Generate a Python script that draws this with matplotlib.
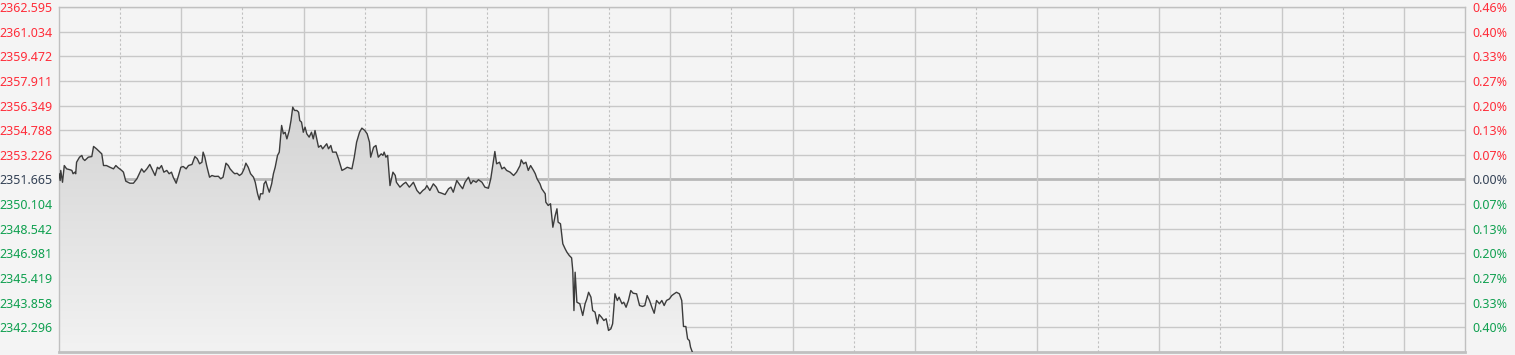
import numpy as np
import matplotlib
matplotlib.use('Agg')
import matplotlib.pyplot as plt
from matplotlib.patches import Polygon
from matplotlib.colors import LinearSegmentedColormap

plt.rcParams['font.family'] = ['Noto Sans', 'DejaVu Sans']

prev_close = 2351.665

# price levels shown on the left axis (top to bottom)
levels = [2362.595, 2361.034, 2359.472, 2357.911, 2356.349, 2354.788, 2353.226,
          2351.665, 2350.104, 2348.542, 2346.981, 2345.419, 2343.858, 2342.296]

# minutes since open
minutes = [0.0, 0.2, 0.3, 0.6, 0.9, 1.3, 1.9, 2.2, 2.4, 2.7, 2.85, 3.0, 3.5, 3.9, 4.1, 4.4,
           5.0, 5.6, 5.9, 6.4, 7.0, 7.3, 7.6, 8.1, 8.7, 9.3, 9.7, 10.1, 10.7, 11.0, 11.4,
           12.1, 12.7, 13.3, 13.7, 14.1, 14.5, 15.0, 15.5, 16.0, 16.4, 16.8, 17.1, 17.5,
           17.9, 18.4, 18.8, 19.2, 19.5, 20.0, 20.4, 20.8, 21.2, 21.7, 22.1, 22.7, 23.2,
           23.6, 24.0, 24.4, 24.6, 24.9, 25.2, 25.7, 26.1, 26.6, 27.2, 27.6, 28.0, 28.5,
           28.9, 29.2, 29.7, 30.0, 30.4, 30.8, 31.2, 31.6, 31.9, 32.3, 32.7, 33.2, 33.5,
           33.9, 34.2, 34.4, 34.8, 35.0, 35.3, 35.6, 35.9, 36.3, 36.6, 36.9, 37.3, 37.6,
           38.0, 38.3, 38.6, 38.9, 39.3, 39.6, 39.9, 40.2, 40.6, 40.9, 41.1, 41.4, 41.7,
           42.0, 42.3, 42.7, 43.1, 43.4, 43.7, 44.3, 44.7, 45.0, 45.7, 46.0, 46.4, 46.7,
           47.3, 47.7, 48.3, 48.8, 49.2, 50.0, 50.4, 50.8, 51.3, 51.7, 52.2, 52.6, 53.0,
           53.2, 53.7, 54.1, 54.5, 55.0, 55.3, 55.5, 55.8, 56.1, 56.5, 57.0, 57.4, 57.6,
           58.2, 58.8, 59.2, 59.8, 60.5, 61.1, 61.6, 62.1, 62.5, 62.8, 63.3, 63.9, 64.4,
           64.8, 65.3, 65.9, 66.5, 66.9, 67.3, 67.9, 68.5, 68.9, 69.3, 69.9, 70.3, 70.7,
           71.2, 71.6, 72.2, 72.7, 73.3, 73.7, 74.0, 74.4, 74.7, 75.2, 75.6, 76.0, 76.4,
           77.0, 77.6, 78.1, 78.7, 78.9, 79.3, 79.7, 80.1, 80.5, 81.0, 81.3, 81.6, 82.1,
           82.4, 83.0, 83.1, 83.5, 83.9, 84.3, 84.7, 85.0, 85.2, 85.6, 86.0, 86.4, 86.7,
           87.1, 87.5, 87.7, 87.9, 88.1, 88.4, 88.9, 89.4, 89.8, 90.1, 90.4, 90.8, 91.1,
           91.5, 91.9, 92.2, 92.6, 93.0, 93.4, 93.8, 94.2, 94.5, 94.9, 95.3, 95.6, 96.1,
           96.4, 96.8, 97.2, 97.6, 98.0, 98.6, 99.1, 99.6, 100.0, 100.4, 100.8, 101.2,
           101.6, 102.0, 102.5, 102.9, 103.3, 103.7, 104.2, 104.6, 105.0, 105.4, 105.9,
           106.3, 106.6, 107.0, 107.3, 107.6, 107.8, 108.1]

prices = [2352.03, 2351.60, 2352.24, 2351.49, 2352.55, 2352.34, 2352.28, 2352.24, 2352.03,
          2352.13, 2352.03, 2352.76, 2353.08, 2353.19, 2352.98, 2352.87, 2353.08, 2353.12,
          2353.76, 2353.61, 2353.40, 2353.29, 2352.55, 2352.55, 2352.44, 2352.34, 2352.55,
          2352.41, 2352.24, 2352.13, 2351.56, 2351.43, 2351.43, 2351.71, 2352.03, 2352.34,
          2352.13, 2352.34, 2352.62, 2352.24, 2351.92, 2352.44, 2352.34, 2352.55, 2352.13,
          2352.24, 2352.03, 2352.13, 2351.81, 2351.43, 2351.92, 2352.44, 2352.49, 2352.34,
          2352.55, 2352.62, 2353.12, 2352.98, 2352.66, 2352.76, 2353.40, 2353.08, 2352.55,
          2351.81, 2351.92, 2351.86, 2351.87, 2351.71, 2351.81, 2352.70, 2352.55, 2352.34,
          2352.13, 2352.03, 2352.06, 2351.92, 2352.03, 2352.34, 2352.70, 2352.44, 2352.03,
          2351.81, 2351.49, 2350.76, 2350.38, 2350.76, 2350.76, 2351.39, 2351.56, 2351.18,
          2350.86, 2351.39, 2352.03, 2352.44, 2353.19, 2353.40, 2355.09, 2354.56, 2354.66,
          2354.24, 2354.77, 2355.40, 2356.25, 2356.04, 2356.04, 2355.93, 2355.40, 2355.30,
          2354.66, 2354.98, 2354.56, 2354.35, 2354.66, 2354.24, 2354.77, 2353.71, 2353.82,
          2353.61, 2353.93, 2353.61, 2353.82, 2353.40, 2353.40, 2352.98, 2352.24, 2352.34,
          2352.44, 2352.34, 2353.08, 2354.03, 2354.66, 2354.92, 2354.77, 2354.56, 2354.03,
          2353.08, 2353.71, 2353.82, 2353.08, 2353.29, 2353.19, 2353.40, 2353.08, 2353.19,
          2351.28, 2352.13, 2351.92, 2351.49, 2351.18, 2351.39, 2351.49, 2351.18, 2351.49,
          2350.97, 2350.76, 2350.97, 2351.08, 2351.28, 2350.97, 2351.39, 2351.18, 2350.86,
          2350.80, 2350.71, 2351.08, 2351.18, 2350.86, 2351.60, 2351.28, 2351.08, 2351.49,
          2351.81, 2351.39, 2351.60, 2351.49, 2351.65, 2351.49, 2351.18, 2351.11, 2351.71,
          2352.44, 2353.44, 2352.66, 2352.76, 2352.34, 2352.44, 2352.24, 2352.13, 2351.92,
          2352.13, 2352.55, 2352.91, 2352.66, 2352.76, 2352.24, 2352.55, 2352.24, 2352.03,
          2351.71, 2351.39, 2351.08, 2350.76, 2350.23, 2350.02, 2350.13, 2348.64, 2349.38,
          2349.81, 2348.96, 2348.86, 2347.59, 2347.27, 2347.06, 2346.85, 2346.70, 2345.90,
          2343.36, 2345.79, 2343.89, 2343.79, 2343.05, 2343.79, 2344.10, 2344.52, 2344.21,
          2343.36, 2343.26, 2342.52, 2343.11, 2342.94, 2342.73, 2342.84, 2342.10, 2342.20,
          2342.52, 2344.42, 2344.00, 2344.21, 2343.79, 2343.89, 2343.57, 2344.00, 2344.63,
          2344.46, 2344.42, 2343.68, 2343.62, 2343.68, 2344.31, 2344.00, 2343.57, 2343.19,
          2344.00, 2343.79, 2344.00, 2343.68, 2344.00, 2344.10, 2344.31, 2344.42, 2344.52,
          2344.42, 2344.00, 2342.35, 2342.35, 2341.57, 2341.46, 2341.04, 2340.74]

t = np.array(minutes)
p = np.array(prices)

bg = '#f4f4f4'
red = '#ff2d3a'
green = '#10a050'
neutral = '#334155'

y_top = levels[0]
y_bot = prev_close - (levels[0] - prev_close)

fig = plt.figure(figsize=(15.15, 3.55), dpi=100, facecolor=bg)
ax = fig.add_axes([59 / 1515, 3 / 355, 1406 / 1515, 345 / 355])
ax.set_facecolor(bg)

# grid
for lv in levels:
    if lv == prev_close:
        ax.axhline(lv, color='#b8b8b8', lw=2.0, zorder=0.5)
    else:
        ax.axhline(lv, color='#c8c8c8', lw=1.0, zorder=0.5)
vx = np.linspace(0, 240, 24)
for i, v in enumerate(vx[1:-1], start=1):
    if i % 2:
        ax.axvline(v, color='#c0c0c0', lw=0.8, ls=(0, (2, 2)), zorder=0.5)
    else:
        ax.axvline(v, color='#c8c8c8', lw=1.0, zorder=0.5)

# gradient area under the line
verts = list(zip(t, p)) + [(t[-1], y_bot), (t[0], y_bot)]
poly = Polygon(verts, closed=True, facecolor='none', edgecolor='none')
ax.add_patch(poly)
cmap = LinearSegmentedColormap.from_list('fade', ['#d4d4d4', '#f2f2f2'])
grad = np.linspace(0, 1, 256).reshape(-1, 1)
im = ax.imshow(grad, cmap=cmap, extent=[t[0], t[-1], y_bot, p.max()],
               aspect='auto', origin='upper', zorder=1, interpolation='bilinear')
im.set_clip_path(poly)

ax.plot(t, p, color='#3c3c3c', lw=1.0, zorder=3)

ax.set_xlim(0, 240)
ax.set_ylim(y_bot, y_top)
ax.set_xticks([])

for s in ['left', 'right', 'top']:
    ax.spines[s].set_color('#c0c0c0')
    ax.spines[s].set_linewidth(1.0)
ax.spines['bottom'].set_color('#c0c0c0')
ax.spines['bottom'].set_linewidth(2.0)


def level_color(v):
    if abs(v - prev_close) < 1e-6:
        return neutral
    return red if v > prev_close else green


ax.set_yticks(levels)
ax.set_yticklabels(['%.3f' % v for v in levels])
ax.tick_params(axis='y', length=0, pad=5, labelsize=9)
for lab, v in zip(ax.get_yticklabels(), levels):
    lab.set_color(level_color(v))

ax2 = ax.twinx()
ax2.set_ylim(y_bot, y_top)
ax2.set_yticks(levels)
ax2.set_yticklabels(['%.2f%%' % abs((v - prev_close) / prev_close * 100) for v in levels])
ax2.tick_params(axis='y', length=0, pad=5, labelsize=9)
for lab, v in zip(ax2.get_yticklabels(), levels):
    lab.set_color(level_color(v))
for s in ax2.spines.values():
    s.set_visible(False)

fig.savefig('out.png', dpi=100, facecolor=bg)
